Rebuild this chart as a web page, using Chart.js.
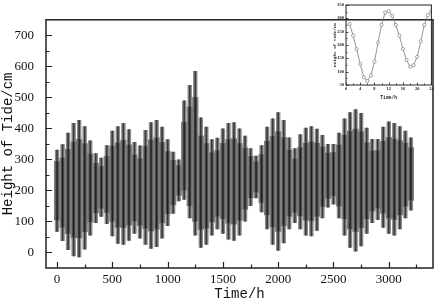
<!DOCTYPE html>
<html>
<head>
<meta charset="utf-8">
<script src="https://cdn.jsdelivr.net/npm/chart.js@4.4.1/dist/chart.umd.min.js"></script>
<style>
  body { margin: 0; background: #fff; }
  .chart-container { position: relative; width: 436px; height: 301px; }
  #insetChart { position: absolute; left: 330px; top: 0; }
</style>
</head>
<body>
<div class="chart-container">
  <canvas id="tideChart" width="436" height="301"></canvas>
  <canvas id="insetChart" width="106" height="102"></canvas>
</div>
<script>
// sampled every 50 h: envelope of the hourly tide record (cm)
const hours = [0, 50, 100, 150, 200, 250, 300, 350, 400, 450, 500, 550, 600, 650, 700, 750,
  800, 850, 900, 950, 1000, 1050, 1100, 1150, 1200, 1250, 1300, 1350, 1400, 1450, 1500, 1550,
  1600, 1650, 1700, 1750, 1800, 1850, 1900, 1950, 2000, 2050, 2100, 2150, 2200, 2250, 2300, 2350,
  2400, 2450, 2500, 2550, 2600, 2650, 2700, 2750, 2800, 2850, 2900, 2950, 3000, 3050, 3100, 3150, 3200];
const tideHigh = [331, 349, 386, 417, 427, 407, 361, 320, 305, 346, 392, 407, 417, 397, 356, 345,
  395, 420, 427, 405, 365, 325, 300, 490, 540, 585, 435, 405, 365, 370, 400, 417,
  420, 400, 376, 336, 312, 346, 405, 432, 452, 427, 371, 336, 381, 402, 407, 399,
  379, 350, 350, 386, 432, 452, 462, 450, 402, 366, 366, 405, 422, 417, 407, 392, 371];
const tideLow = [67, 37, 8, -12, -15, 10, 55, 95, 115, 92, 52, 28, 25, 38, 60, 45,
  25, 12, 18, 45, 85, 125, 165, 170, 110, 55, 15, 25, 55, 75, 60, 42,
  38, 55, 100, 150, 175, 130, 75, 25, 6, 30, 75, 95, 75, 55, 52, 70,
  110, 145, 155, 110, 55, 15, 3, 20, 60, 95, 105, 80, 60, 55, 75, 110, 135];
// dark core of the band
const coreHigh = [294, 305, 333, 357, 365, 351, 318, 288, 278, 310, 344, 354, 362, 347, 315, 303,
  343, 363, 370, 355, 326, 297, 281, 420, 470, 500, 376, 352, 322, 329, 352, 365,
  367, 352, 337, 310, 293, 316, 359, 375, 390, 371, 330, 302, 338, 353, 357, 353,
  341, 321, 323, 347, 379, 391, 398, 390, 354, 328, 329, 359, 371, 366, 361, 353, 338];
const coreLow = [104, 81, 61, 48, 47, 66, 98, 127, 142, 128, 100, 81, 80, 88, 101, 87,
  77, 69, 75, 95, 124, 153, 184, 200, 150, 100, 74, 78, 98, 116, 108, 94,
  91, 103, 139, 176, 194, 160, 121, 82, 68, 86, 116, 129, 118, 104, 102, 116,
  148, 174, 182, 149, 108, 76, 67, 80, 108, 133, 142, 126, 111, 106, 121, 149, 168];

const xTicks = [0, 500, 1000, 1500, 2000, 2500, 3000];
const xMinor = [250, 750, 1250, 1750, 2250, 2750, 3250];
const yTicks = [0, 100, 200, 300, 400, 500, 600, 700];
const yMinor = [50, 150, 250, 350, 450, 550, 650];

// inset: one day, hourly
const insetHours = [1, 2, 3, 4, 5, 6, 7, 8, 9, 10, 11, 12, 13, 14, 15, 16, 17, 18, 19, 20, 21, 22, 23, 24];
const insetTide = [279, 235, 184, 129, 79, 65, 86, 137, 209, 276, 322, 327, 309, 275, 235, 185, 144, 119, 124, 156, 213, 275, 312, 327];
const insetXTicks = [0, 4, 8, 12, 16, 20, 24];
const insetXMinor = [2, 6, 10, 14, 18, 22];
const insetYTicks = [50, 100, 150, 200, 250, 300, 350];
const insetYMinor = [75, 125, 175, 225, 275, 325];

// frame box + inward ticks
const frameTicks = {
  id: 'frameTicks',
  afterDraw(chart, args, o) {
    const { ctx, chartArea: a } = chart;
    const x = chart.scales.x, y = chart.scales.y;
    ctx.save();
    ctx.strokeStyle = o.color;
    ctx.lineWidth = o.width;
    ctx.strokeRect(a.left, a.top, a.right - a.left, a.bottom - a.top);
    ctx.lineWidth = o.tickWidth;
    ctx.beginPath();
    const xt = (vals, len) => vals.forEach(v => {
      const p = Math.round(x.getPixelForValue(v)) + 0.5;
      ctx.moveTo(p, a.bottom); ctx.lineTo(p, a.bottom - len);
    });
    const yt = (vals, len) => vals.forEach(v => {
      const p = Math.round(y.getPixelForValue(v)) + 0.5;
      ctx.moveTo(a.left, p); ctx.lineTo(a.left + len, p);
    });
    xt(o.xMajor, o.major); xt(o.xMinor, o.minor);
    yt(o.yMajor, o.major); yt(o.yMinor, o.minor);
    ctx.stroke();
    ctx.restore();
  }
};

const toBars = (lo, hi) => hours.map((t, i) => ({ x: t, y: [lo[i], hi[i]] }));
const plain = v => String(v);

new Chart(document.getElementById('tideChart').getContext('2d'), {
  type: 'bar',
  data: {
    datasets: [
      { data: toBars(coreLow, coreHigh), backgroundColor: '#1a1a1a', barPercentage: 0.2, order: 1 },
      { data: toBars(coreLow, coreHigh), backgroundColor: '#4c4c4c', barPercentage: 0.62, order: 2 },
      { data: toBars(tideLow, tideHigh), backgroundColor: '#3a3a3a', barPercentage: 0.3, order: 3 },
      { data: toBars(tideLow, tideHigh), backgroundColor: '#8c8c8c', barPercentage: 0.8, order: 4 },
      { data: toBars(coreLow, coreHigh), backgroundColor: '#777777', barPercentage: 1, order: 5 }
    ]
  },
  options: {
    responsive: false,
    animation: false,
    devicePixelRatio: 1,
    layout: { padding: { left: 0, right: 3, top: 5, bottom: 0 } },
    datasets: { bar: { grouped: false, categoryPercentage: 1, borderWidth: 0 } },
    scales: {
      x: {
        type: 'linear',
        min: -100, max: 3400,
        offset: false,
        grid: { display: false, drawTicks: false, offset: false },
        border: { display: false },
        afterBuildTicks: s => { s.ticks = xTicks.map(v => ({ value: v })); },
        afterFit: s => { s.height = 33; },
        ticks: { padding: 4, color: '#111', callback: plain, font: { family: 'Liberation Serif', size: 13 } },
        title: { display: true, text: 'Time/h', color: '#111', padding: { top: 0, bottom: -2 },
          font: { family: 'Liberation Mono', size: 14 } }
      },
      y: {
        min: -50, max: 750,
        grid: { display: false, drawTicks: false },
        border: { display: false },
        afterBuildTicks: s => { s.ticks = yTicks.map(v => ({ value: v })); },
        afterFit: s => { s.width = 46; },
        ticks: { padding: 12, color: '#111', callback: plain, font: { family: 'Liberation Serif', size: 13 } },
        title: { display: true, text: 'Height of Tide/cm', color: '#111', padding: { top: 0, bottom: 0 },
          font: { family: 'Liberation Mono', size: 14 } }
      }
    },
    plugins: {
      legend: { display: false },
      tooltip: { enabled: false },
      frameTicks: { color: '#222', width: 1.5, tickWidth: 1.2, major: 6, minor: 3.5,
        xMajor: xTicks, xMinor: xMinor, yMajor: yTicks, yMinor: yMinor }
    }
  },
  plugins: [frameTicks]
});

// inset chart, top right
new Chart(document.getElementById('insetChart').getContext('2d'), {
  type: 'line',
  data: {
    labels: insetHours,
    datasets: [{
      data: insetHours.map((h, i) => ({ x: h, y: insetTide[i] })),
      borderColor: '#7a7a7a',
      borderWidth: 0.8,
      pointRadius: 1.6,
      pointBorderWidth: 0.6,
      pointBorderColor: '#6a6a6a',
      pointBackgroundColor: '#fff',
      tension: 0
    }]
  },
  options: {
    responsive: false,
    animation: false,
    devicePixelRatio: 1,
    layout: { padding: { left: 0, right: 4, top: 5, bottom: 0 } },
    scales: {
      x: {
        type: 'linear',
        min: 0, max: 24,
        grid: { display: false, drawTicks: false },
        border: { display: false },
        afterBuildTicks: s => { s.ticks = insetXTicks.map(v => ({ value: v })); },
        afterFit: s => { s.height = 17; },
        ticks: { padding: 1, color: '#222', callback: plain, font: { family: 'Liberation Serif', size: 4.5, weight: 'bold' } },
        title: { display: true, text: 'Time/h', color: '#222', padding: { top: 0, bottom: 1.3 },
          font: { family: 'Liberation Mono', size: 4.7, weight: 'bold' } }
      },
      y: {
        min: 50, max: 350,
        grid: { display: false, drawTicks: false },
        border: { display: false },
        afterBuildTicks: s => { s.ticks = insetYTicks.map(v => ({ value: v })); },
        afterFit: s => { s.width = 16; },
        ticks: { padding: 2, color: '#222', callback: plain, font: { family: 'Liberation Serif', size: 4.5, weight: 'bold' } },
        title: { display: true, text: 'Height of Tide/cm', color: '#222', padding: { top: 2.3, bottom: 0 },
          font: { family: 'Liberation Mono', size: 4.3, weight: 'bold' } }
      }
    },
    plugins: {
      legend: { display: false },
      tooltip: { enabled: false },
      frameTicks: { color: '#222', width: 1, tickWidth: 0.8, major: 2.5, minor: 1.5,
        xMajor: insetXTicks, xMinor: insetXMinor, yMajor: insetYTicks, yMinor: insetYMinor }
    }
  },
  plugins: [frameTicks]
});
</script>
</body>
</html>
